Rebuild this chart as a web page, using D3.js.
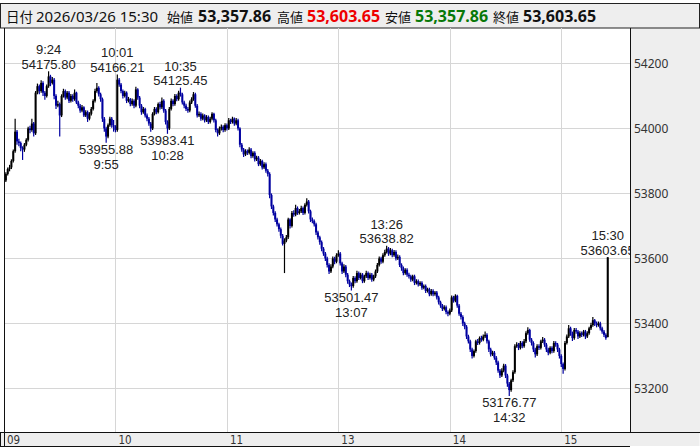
<!DOCTYPE html>
<html><head><meta charset="utf-8">
<script src="https://cdn.jsdelivr.net/npm/d3@7"></script>
<style>body{margin:0;background:#fff}svg{display:block}</style>
</head><body><svg id="c" width="700" height="448"></svg>
<script>
const opens=[
53875,53840,53860,53875,53880,53900,53930,53990,53960,53955,
53940,53935,53950,53965,54000,53995,54015,53985,54110,54130,
54115,54140,54110,54100,54130,54160,54140,54150,54100,54070,
54075,54040,54100,54115,54095,54110,54085,54100,54090,54110,
54080,54070,54055,54065,54040,54050,54030,54045,54060,54085,
54115,54125,54105,54090,54030,54000,53975,54010,54030,54010,
54005,53995,54150,54135,54115,54100,54110,54085,54090,54075,
54085,54070,54120,54095,54070,54050,54060,54040,54030,54015,
54000,54045,54060,54050,54075,54065,54085,54055,54020,54000,
54060,54085,54075,54100,54090,54110,54105,54080,54070,54060,
54055,54080,54090,54105,54070,54040,54045,54030,54040,54025,
54035,54020,54030,54045,54025,53995,53985,54000,54005,53995,
54010,54000,54025,54020,54030,54015,54025,54000,53950,53935,
53920,53930,53925,53935,53915,53925,53905,53910,53890,53900,
53880,53890,53870,53860,53795,53760,53740,53720,53705,53690,
53670,53645,53655,53665,53720,53700,53740,53735,53755,53740,
53745,53755,53740,53765,53775,53745,53720,53715,53705,53680,
53665,53650,53630,53615,53600,53580,53560,53575,53600,53590,
53610,53615,53585,53560,53575,53550,53530,53520,53515,53540,
53530,53555,53540,53550,53530,53545,53555,53540,53550,53535,
53545,53560,53580,53600,53590,53610,53620,53630,53615,53625,
53610,53620,53600,53605,53580,53570,53555,53565,53550,53545,
53535,53545,53525,53530,53520,53525,53510,53515,53500,53505,
53490,53500,53490,53495,53480,53465,53455,53445,53450,53435,
53430,53440,53480,53470,53485,53455,53430,53420,53400,53390,
53360,53345,53320,53300,53315,53345,53340,53355,53350,53360,
53365,53345,53320,53305,53310,53295,53280,53255,53240,53255,
53270,53240,53215,53195,53225,53250,53330,53335,53325,53340,
53330,53345,53370,53380,53350,53340,53320,53305,53330,53325,
53345,53350,53335,53320,53310,53325,53315,53340,53335,53320,
53300,53275,53260,53340,53360,53385,53370,53355,53380,53375,
53360,53370,53365,53375,53360,53370,53385,53395,53410,53400,
53395,53400,53385,53375,53365,53357.86];
const highs=[
53880,53865,53880,53888,53905,53935,54030,53995,53968,53960,
53945,53955,53970,54005,54008,54030,54020,54115,54138,54135,
54148,54145,54115,54135,54175.80,54165,54158,54155,54105,54085,
54080,54105,54122,54120,54115,54115,54106,54105,54120,54113,
54085,54075,54072,54068,54056,54055,54050,54066,54090,54122,
54140,54130,54110,54095,54035,54005,54015,54036,54035,54026,
54010,54166.21,54155,54140,54120,54116,54114,54097,54094,54092,
54090,54128,54124,54100,54075,54066,54064,54046,54035,54020,
54050,54066,54065,54080,54082,54095,54090,54060,54025,54066,
54092,54090,54106,54105,54116,54125.45,54110,54085,54076,54066,
54086,54096,54112,54110,54075,54052,54050,54046,54044,54041,
54040,54036,54050,54048,54030,54000,54006,54012,54010,54016,
54015,54032,54030,54036,54034,54032,54030,54004,53955,53940,
53936,53935,53942,53940,53930,53930,53916,53915,53906,53904,
53896,53895,53875,53865,53800,53765,53745,53725,53710,53695,
53675,53662,53672,53725,53724,53746,53748,53765,53760,53752,
53762,53760,53770,53785,53780,53750,53726,53720,53710,53685,
53670,53655,53635,53620,53605,53585,53582,53606,53605,53616,
53625,53620,53590,53582,53580,53555,53535,53526,53546,53545,
53562,53560,53556,53555,53550,53562,53560,53556,53555,53550,
53566,53586,53606,53605,53616,53627,53638.82,53635,53632,53630,
53626,53625,53612,53610,53585,53575,53570,53570,53556,53550,
53550,53550,53536,53535,53530,53530,53520,53520,53510,53510,
53506,53505,53500,53500,53485,53470,53460,53456,53455,53440,
53446,53486,53485,53490,53488,53460,53435,53425,53405,53395,
53365,53350,53325,53320,53350,53352,53360,53362,53366,53375,
53370,53350,53325,53316,53315,53300,53285,53260,53262,53276,
53275,53245,53220,53230,53256,53336,53342,53340,53346,53345,
53352,53376,53388,53384,53355,53345,53325,53336,53336,53350,
53358,53355,53340,53325,53330,53330,53346,53345,53340,53325,
53305,53280,53346,53366,53395,53390,53375,53386,53386,53380,
53376,53375,53380,53380,53376,53390,53402,53420,53414,53406,
53406,53405,53390,53380,53370,53603.65];
const lows=[
53830,53835,53855,53868,53875,53895,53925,53950,53945,53930,
53903,53928,53945,53960,53985,53990,53975,53980,54105,54105,
54110,54100,54088,54095,54125,54130,54135,54090,54060,54065,
53975,54035,54095,54088,54090,54078,54080,54082,54085,54075,
54062,54048,54050,54035,54035,54020,54025,54040,54055,54080,
54110,54098,54082,54020,53990,53955.88,53970,54005,54002,53990,
53988,53990,54128,54108,54092,54095,54078,54080,54068,54070,
54062,54065,54088,54062,54042,54045,54034,54022,54008,53990,
53995,54040,54044,54046,54058,54060,54048,54012,53983.41,53995,
54055,54068,54070,54084,54085,54098,54074,54062,54054,54048,
54050,54075,54085,54064,54034,54035,54024,54025,54018,54020,
54014,54015,54025,54018,53988,53975,53980,53994,53988,53990,
53994,53995,54014,54015,54008,54010,53994,53942,53928,53912,
53915,53918,53920,53908,53910,53898,53900,53884,53885,53874,
53875,53864,53852,53785,53752,53732,53712,53698,53682,53662,
53640,53555,53650,53660,53692,53695,53728,53730,53734,53735,
53740,53734,53735,53760,53738,53712,53708,53698,53672,53658,
53642,53622,53608,53592,53572,53552,53555,53570,53582,53585,
53605,53578,53552,53555,53542,53522,53512,53501.47,53510,53524,
53525,53534,53535,53524,53525,53540,53534,53535,53528,53530,
53540,53555,53575,53584,53585,53605,53615,53608,53610,53604,
53605,53594,53595,53574,53562,53548,53550,53544,53538,53528,
53530,53518,53520,53514,53515,53504,53505,53494,53495,53484,
53485,53484,53485,53474,53458,53448,53438,53440,53428,53422,
53425,53435,53464,53465,53448,53424,53412,53392,53382,53352,
53338,53312,53292,53295,53310,53334,53335,53344,53345,53355,
53338,53312,53298,53300,53288,53272,53248,53232,53235,53250,
53232,53205,53176.77,53190,53220,53245,53325,53318,53320,53324,
53325,53340,53365,53344,53332,53312,53295,53300,53318,53320,
53340,53328,53312,53302,53305,53308,53310,53328,53312,53292,
53266,53245,53255,53335,53355,53362,53346,53350,53368,53352,
53355,53358,53360,53352,53355,53365,53380,53390,53392,53388,
53390,53378,53368,53358,53350,53357.86];
const closes=[
53840,53860,53875,53880,53900,53930,53990,53960,53955,53940,
53935,53950,53965,54000,53995,54015,53985,54110,54130,54115,
54140,54110,54100,54130,54160,54140,54150,54100,54070,54075,
54040,54100,54115,54095,54110,54085,54100,54090,54110,54080,
54070,54055,54065,54040,54050,54030,54045,54060,54085,54115,
54125,54105,54090,54030,54000,53975,54010,54030,54010,54005,
53995,54150,54135,54115,54100,54110,54085,54090,54075,54085,
54070,54120,54095,54070,54050,54060,54040,54030,54015,54000,
54045,54060,54050,54075,54065,54085,54055,54020,54000,54060,
54085,54075,54100,54090,54110,54105,54080,54070,54060,54055,
54080,54090,54105,54070,54040,54045,54030,54040,54025,54035,
54020,54030,54045,54025,53995,53985,54000,54005,53995,54010,
54000,54025,54020,54030,54015,54025,54000,53950,53935,53920,
53930,53925,53935,53915,53925,53905,53910,53890,53900,53880,
53890,53870,53860,53795,53760,53740,53720,53705,53690,53670,
53645,53655,53665,53720,53700,53740,53735,53755,53740,53745,
53755,53740,53765,53775,53745,53720,53715,53705,53680,53665,
53650,53630,53615,53600,53580,53560,53575,53600,53590,53610,
53615,53585,53560,53575,53550,53530,53520,53515,53540,53530,
53555,53540,53550,53530,53545,53555,53540,53550,53535,53545,
53560,53580,53600,53590,53610,53620,53630,53615,53625,53610,
53620,53600,53605,53580,53570,53555,53565,53550,53545,53535,
53545,53525,53530,53520,53525,53510,53515,53500,53505,53490,
53500,53490,53495,53480,53465,53455,53445,53450,53435,53430,
53440,53480,53470,53485,53455,53430,53420,53400,53390,53360,
53345,53320,53300,53315,53345,53340,53355,53350,53360,53365,
53345,53320,53305,53310,53295,53280,53255,53240,53255,53270,
53240,53215,53195,53225,53250,53330,53335,53325,53340,53330,
53345,53370,53380,53350,53340,53320,53305,53330,53325,53345,
53350,53335,53320,53310,53325,53315,53340,53335,53320,53300,
53275,53260,53340,53360,53385,53370,53355,53380,53375,53360,
53370,53365,53375,53360,53370,53385,53395,53410,53400,53395,
53400,53385,53375,53365,53355,53603.65];

const hourLabels=["09","10","11","13","14","15"];
const hourTimes=["9:00","10:00","11:00","13:00","14:00","15:00"];
const yTicks=[53200,53400,53600,53800,54000,54200];
const headerDate="2026/03/26 15:30";
const headerNames=["始値","高値","安値","終値"];
const headerValues=["53,357.86","53,603.65","53,357.86","53,603.65"];
const noteTimes=["9:24","10:01","10:35","9:55","10:28","13:26","13:07","14:32","15:30"];
const noteValues=[54175.80,54166.21,54125.45,53955.88,53983.41,53638.82,53501.47,53176.77,53603.65];
const noteKinds=["high","high","high","low","low","high","low","low","high"];

// candle time labels (session minutes)
const times=[];
function tlabel(h,m){return h+":"+String(m).padStart(2,"0");}
for(let m=0;m<150;m++){const t=540+m;times.push(tlabel(Math.floor(t/60),t%60));}
for(let m=0;m<175;m++){const t=750+m;times.push(tlabel(Math.floor(t/60),t%60));}
times.push("15:30");

const candles=closes.map((c,i)=>({i,t:times[i],o:opens[i],h:highs[i],l:lows[i],c}));

const W=700,H=448;
const L=4,R=630,T=28,B=432;
const svg=d3.select("#c");
const font="'Noto Sans','Noto Sans CJK JP',sans-serif";
const noteFont="'Liberation Sans','Noto Sans',sans-serif";

const x=d3.scaleLinear().domain([0,337]).range([L,R]);
const y=d3.scaleLinear().domain([53066,54309]).range([B,T]);

// backgrounds
svg.append("rect").attr("x",0).attr("y",0).attr("width",W).attr("height",H).attr("fill","#fff");
svg.append("rect").attr("x",R).attr("y",T).attr("width",W-R).attr("height",B-T).attr("fill","#eeeeee");
svg.append("rect").attr("x",0.5).attr("y",B).attr("width",W-1).attr("height",14).attr("fill","#eeeeee");

// header
const hdr=svg.append("g");
hdr.append("rect").attr("x",0.5).attr("y",3.5).attr("width",W-1).attr("height",T-3.5).attr("fill","#eeeeee").attr("stroke","#222");
const ht=hdr.append("g").attr("font-family",font).attr("fill","#111");
ht.append("text").attr("x",6).attr("y",22).attr("font-size",13.5).text("日付");
ht.append("text").attr("x",36).attr("y",22).attr("font-size",15).text(headerDate);
const nameX=[167,277,385,493], valX=[198,307,415,523];
const valColors=["#111","#ee0000","#087808","#111"];
headerNames.forEach((n,k)=>{
  ht.append("text").attr("x",nameX[k]).attr("y",22).attr("font-size",13).text(n);
  ht.append("text").attr("x",valX[k]).attr("y",22).attr("font-size",16).attr("font-weight","bold").attr("fill",valColors[k]).text(headerValues[k]);
});

// grid
const grid=svg.append("g").attr("stroke","#d6d6d6").attr("stroke-width",1);
yTicks.forEach(v=>{
  const yy=Math.round(y(v))+0.5;
  grid.append("line").attr("x1",L).attr("x2",R).attr("y1",yy).attr("y2",yy);
});
hourTimes.forEach(t=>{
  const xx=Math.round(x(times.indexOf(t)))+0.5;
  grid.append("line").attr("x1",xx).attr("x2",xx).attr("y1",T).attr("y2",B);
});

// clip
svg.append("clipPath").attr("id","plotclip").append("rect").attr("x",L).attr("y",T).attr("width",R-L).attr("height",B-T);
const plot=svg.append("g").attr("clip-path","url(#plotclip)");

const upCol="#000000", dnCol="#0000a0";
const cg=plot.append("g");
cg.selectAll("line.w").data(candles).join("line").attr("class","w")
  .attr("x1",d=>x(d.i)).attr("x2",d=>x(d.i))
  .attr("y1",d=>y(d.h)).attr("y2",d=>y(d.l))
  .attr("stroke",d=>d.c>=d.o?upCol:dnCol).attr("stroke-width",1.2);
cg.selectAll("rect.b").data(candles).join("rect").attr("class","b")
  .attr("x",d=>x(d.i)-1).attr("width",2)
  .attr("y",d=>y(Math.max(d.o,d.c)))
  .attr("height",d=>Math.max(1,Math.abs(y(d.o)-y(d.c))))
  .attr("fill",d=>d.c>=d.o?upCol:dnCol);

// annotations (two-line labels)
const ag=plot.append("g").attr("font-family",noteFont).attr("font-size",13).attr("fill","#222").attr("text-anchor","middle");
const lh=14.6;
noteTimes.forEach((t,k)=>{
  const idx=times.indexOf(t);
  const v=noteValues[k];
  const cx=x(idx), cy=y(v);
  const valStr=v.toFixed(2);
  const hi=noteKinds[k]==="high";
  const lines=hi?[t,valStr]:[valStr,t];
  const y0=hi?cy-2.5-lh:cy+11.5;
  ag.append("text").attr("x",cx).attr("y",y0).text(lines[0]);
  ag.append("text").attr("x",cx).attr("y",y0+lh).text(lines[1]);
});

// borders
const bd=svg.append("g").attr("stroke","#111").attr("stroke-width",1).attr("fill","none");
bd.append("line").attr("x1",L+0.5).attr("x2",L+0.5).attr("y1",T).attr("y2",B+14);
bd.append("line").attr("x1",R+0.5).attr("x2",R+0.5).attr("y1",T).attr("y2",B);
bd.append("line").attr("x1",0).attr("x2",W).attr("y1",B+0.5).attr("y2",B+0.5);
bd.append("line").attr("x1",0).attr("x2",R).attr("y1",B+14.5).attr("y2",B+14.5);
bd.append("line").attr("x1",0.5).attr("x2",0.5).attr("y1",B).attr("y2",B+14.5);

// right axis
const ya=svg.append("g").attr("font-family",font).attr("font-size",12).attr("fill","#333");
yTicks.forEach(v=>{
  ya.append("text").attr("x",R+4).attr("y",y(v)+4.5).text(v);
});
// bottom axis
const xa=svg.append("g").attr("font-family","'Liberation Sans Narrow','DejaVu Sans Condensed','Noto Sans',sans-serif").attr("font-size",11.5).attr("fill","#333");
hourTimes.forEach((t,k)=>{
  xa.append("text").attr("x",x(times.indexOf(t))+3).attr("y",B+12).text(hourLabels[k]);
});
</script></body></html>
